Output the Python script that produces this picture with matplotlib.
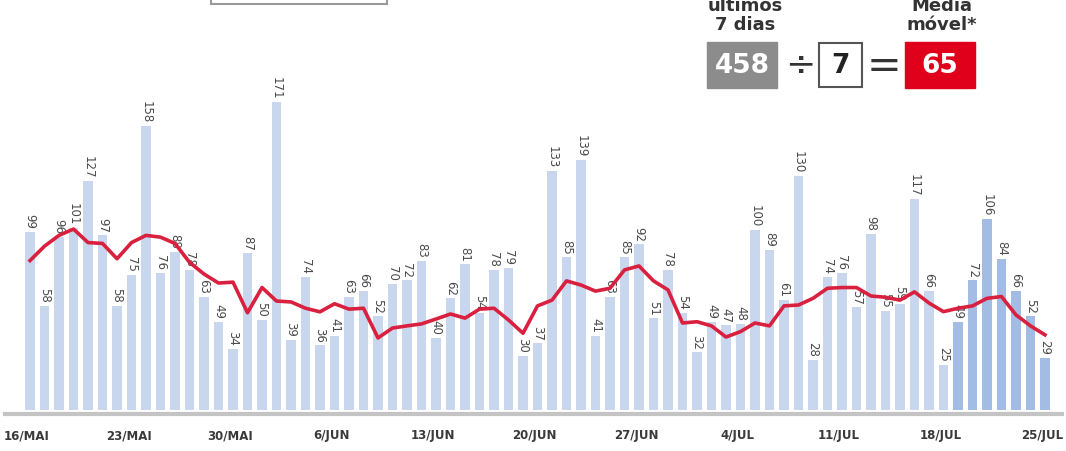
import matplotlib.pyplot as plt
from matplotlib.patches import Rectangle

# casos diarios, 16/mai a 25/jul
casos = [99, 58, 96, 101, 127, 97, 58, 75, 158, 76, 88, 78, 63, 49, 34,
         87, 50, 171, 39, 74, 36, 41, 63, 66, 52, 70, 72, 83, 40, 62,
         81, 54, 78, 79, 30, 37, 133, 85, 139, 41, 63, 85, 92, 51, 78,
         54, 32, 49, 47, 48, 100, 89, 61, 130, 28, 74, 76, 57, 98, 55,
         59, 117, 66, 25, 49, 72, 106, 84, 66, 52, 29]

# media movel (linha vermelha)
media = [83, 91, 97, 100.5, 93, 92.5, 84, 93, 97, 96, 92.5, 82, 75.5, 70.5, 71,
         54, 68, 60.5, 60, 56.5, 54.5, 59, 56, 56.5, 40, 45.5, 46.7, 47.8, 50.5, 53.3,
         51, 56, 56.5, 50, 42.6, 57.8, 61, 71.7, 69.4, 66, 67.6, 77.8, 80, 71.7, 66.7,
         48.3, 49, 46.7, 40.5, 43.5, 48.3, 46.7, 57.8, 58.3, 62, 67.6, 68, 68, 63.3,
         62.6, 61, 65.6, 59.4, 54.6, 56.5, 57.8, 62, 63, 52.8, 46.7, 41.7]

tick_idx = [0, 7, 14, 21, 28, 35, 42, 49, 56, 63, 70]
tick_lbl = ['16/MAI', '23/MAI', '30/MAI', '6/JUN', '13/JUN', '20/JUN',
            '27/JUN', '4/JUL', '11/JUL', '18/JUL', '25/JUL']

total_7 = 458
dias = 7
media_final = 65

plt.rcParams['font.family'] = ['Liberation Sans Narrow', 'DejaVu Sans']

fig = plt.figure(figsize=(10.66, 4.51), dpi=100)
ax = fig.add_axes([0, 33 / 451, 1, 418 / 451])

n = len(casos)
x = list(range(n))
cores = ['#c8d6ee'] * (n - 7) + ['#a3bce3'] * 7
ax.bar(x, casos, width=0.68, color=cores, zorder=1)
ax.plot(x, media, color='#d9203f', lw=2.6, zorder=3, solid_joinstyle='round')

for i, v in enumerate(casos):
    ax.text(i, v + 1.5, str(v), rotation=270, ha='center', va='bottom',
            fontsize=8.5, color='#4a4a4a', zorder=2)

ax.plot([-1.75, 71.2], [-2.3, -2.3], color='#c4c4c4', lw=3, clip_on=False)
for i, t in zip(tick_idx, tick_lbl):
    ax.text(i - 0.2, -14.5, t, ha='center', va='center', fontsize=8.5,
            color='#3a3a3a', fontweight='bold', clip_on=False)

ax.set_xlim(-2.07, 71.45)
ax.set_ylim(-4.5, 227.8)
ax.axis('off')

# cabecalho (parcialmente cortado no topo)
ov = fig.add_axes([0, 0, 1, 1], zorder=5)
ov.set_xlim(0, 1066)
ov.set_ylim(451, 0)
ov.axis('off')
ov.add_patch(Rectangle((211, -20), 176, 24, fill=False, ec='#9a9a9a', lw=1.5))
ov.text(745, 6, 'últimos', ha='center', va='center', fontsize=13,
        fontweight='bold', color='#333333')
ov.text(745, 25, '7 dias', ha='center', va='center', fontsize=13,
        fontweight='bold', color='#333333')
ov.text(942, 6, 'Média', ha='center', va='center', fontsize=13,
        fontweight='bold', color='#333333')
ov.text(942, 25, 'móvel*', ha='center', va='center', fontsize=13,
        fontweight='bold', color='#333333')
ov.add_patch(Rectangle((707, 42), 70, 46, color='#8c8c8c'))
ov.text(742, 66, str(total_7), ha='center', va='center', fontsize=19,
        fontweight='bold', color='white')
ov.text(800, 66, '÷', ha='center', va='center', fontsize=26,
        color='#333333', family='DejaVu Sans')
ov.add_patch(Rectangle((819, 43), 43, 44, fill=False, ec='#555555', lw=1.5))
ov.text(840.5, 66, str(dias), ha='center', va='center', fontsize=19,
        fontweight='bold', color='#222222')
ov.text(884, 66, '=', ha='center', va='center', fontsize=30,
        color='#333333', family='DejaVu Sans')
ov.add_patch(Rectangle((905, 42), 70, 46, color='#e0001c'))
ov.text(940, 66, str(media_final), ha='center', va='center', fontsize=19,
        fontweight='bold', color='white')

fig.savefig('out.png', dpi=100)
